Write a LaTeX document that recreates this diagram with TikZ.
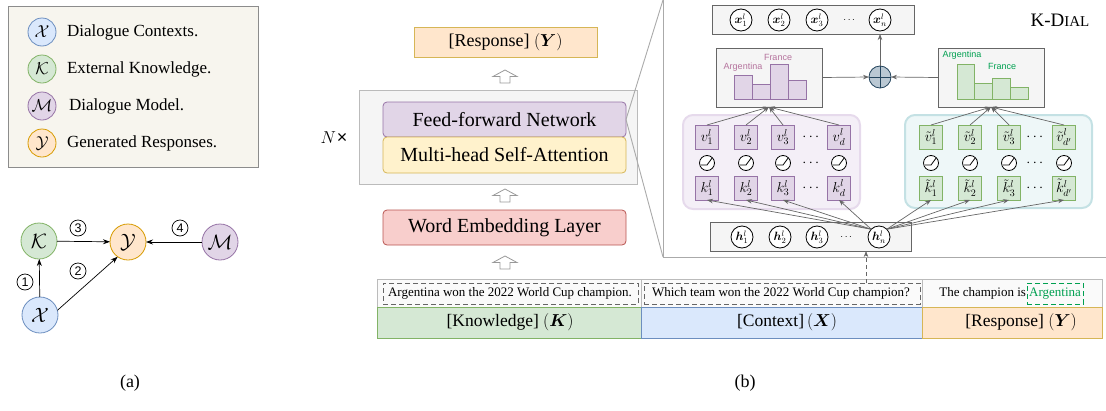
\documentclass[tikz,border=0pt]{standalone}
\usepackage{amsmath,bm}
\usepackage{fontspec}
\setmainfont{Liberation Serif}
\newfontfamily\sansf{Liberation Sans}
\newfontfamily\dejavu{DejaVu Sans}
\usetikzlibrary{arrows.meta}
\newcommand\myfs[1]{\fontsize{#1}{#1}\selectfont}
\definecolor{bluef}{HTML}{DAE8FC}\definecolor{blued}{HTML}{6C8EBF}
\definecolor{greenf}{HTML}{D5E8D4}\definecolor{greend}{HTML}{82B366}
\definecolor{purpf}{HTML}{E1D5E7}\definecolor{purpd}{HTML}{9673A6}
\definecolor{orf}{HTML}{FFE6CC}\definecolor{ord}{HTML}{D79B00}
\definecolor{yelf}{HTML}{FFF2CC}\definecolor{yeld}{HTML}{D6B656}
\definecolor{redf}{HTML}{F8CECC}\definecolor{redd}{HTML}{B85450}
\definecolor{legbg}{HTML}{F7F5EE}\definecolor{legd}{HTML}{8C8C8C}
\definecolor{panp}{HTML}{F4EFF7}\definecolor{panpd}{HTML}{E6DAEC}
\definecolor{pant}{HTML}{EEF7F8}\definecolor{pantd}{HTML}{C4E1E4}
\definecolor{lgray}{HTML}{F5F5F5}\definecolor{dgray}{HTML}{666666}
\definecolor{histp}{HTML}{B5739D}\definecolor{histg}{HTML}{00A050}
\definecolor{plusf}{HTML}{BAC8D3}\definecolor{plusd}{HTML}{23445D}
\definecolor{cellf}{HTML}{FAFAFA}\definecolor{celld}{HTML}{BBBBBB}
\definecolor{panl}{HTML}{AAAAAA}
\tikzset{
  every node/.style={inner sep=0pt, outer sep=0pt},
  bdr/.style={line width=0.8pt},
  legc/.style={circle, bdr, minimum size=28pt, font=\myfs{17}},
  grc/.style={circle, bdr, minimum size=36pt, font=\myfs{21}},
  ltxt/.style={anchor=west, font=\myfs{17}},
  layer/.style={rectangle, rounded corners=4pt, bdr, minimum width=243pt, font=\myfs{20}},
  gbox/.style={rectangle, bdr, draw=dgray, fill=lgray},
  mc/.style={circle, draw=black, fill=white, bdr, minimum size=22pt, font=\myfs{12}},
  vbox/.style={rectangle, bdr, minimum width=23pt, minimum height=24pt, font=\myfs{14.5}},
  pvb/.style={vbox, fill=purpf, draw=purpd},
  gvb/.style={vbox, fill=greenf, draw=greend},
  actc/.style={circle, draw=black, bdr, fill=white, minimum size=15pt},
  garrow/.style={draw=dgray, line width=0.7pt, -{Stealth[length=6pt,width=4.5pt]}},
  barrow/.style={draw=black, line width=0.7pt, -{Stealth[length=7pt,width=5pt]}},
  cell/.style={rectangle, draw=celld, fill=cellf, bdr, minimum height=28pt},
  lab/.style={rectangle, bdr, minimum height=31pt, font=\myfs{17.5}},
  dbox/.style={rectangle, draw=dgray, line width=1pt, dash pattern=on 5pt off 3pt, minimum height=21pt},
  sent/.style={font=\myfs{13}},
  htxt/.style={font=\sansf\myfs{9}},
  hollow/.style={draw=gray!80, fill=white, line width=0.8pt},
  pline/.style={draw=panl, line width=0.9pt},
  cnum/.style={circle, draw=black, line width=0.7pt, minimum size=16pt, font=\sansf\myfs{12.5}}
}
\newcommand\hollowup[2]{\draw[hollow] (#1-12,#2+6.5) -- (#1,#2) -- (#1+12,#2+6.5) -- (#1+5,#2+6.5) -- (#1+5,#2+13) -- (#1-5,#2+13) -- (#1-5,#2+6.5) -- cycle;}
\newcommand\relu[1]{\draw[line width=0.8pt] ([shift={(-6.5,2)}]#1.center) -- ([shift={(0,2)}]#1.center) -- ([shift={(5,-4.8)}]#1.center);}
\begin{document}
\begin{tikzpicture}[x=1pt,y=-1pt]
\useasboundingbox (0,0) rectangle (1106,410);
% ---------- legend ----------
\node[rectangle, draw=legd, fill=legbg, bdr, minimum width=250pt, minimum height=161pt, anchor=north west] (leg) at (8,6) {};
\node[legc, fill=bluef, draw=blued] (lx) at (42,32) {$\mathcal{X}$};
\node[legc, fill=greenf, draw=greend] (lk) at (42,69) {$\mathcal{K}$};
\node[legc, fill=purpf, draw=purpd] (lm) at (42,106) {$\mathcal{M}$};
\node[legc, fill=orf, draw=ord] (ly) at (42,143) {$\mathcal{Y}$};
\node[ltxt] (tx) at (67,32) {Dialogue Contexts.};
\node[ltxt] (tk) at (67,69) {External Knowledge.};
\node[ltxt] (tm) at (69,106) {Dialogue Model.};
\node[ltxt] (ty) at (67,143) {Generated Responses.};
% ---------- graph (a) ----------
\node[grc, fill=greenf, draw=greend] (K) at (39,241) {$\mathcal{K}$};
\node[grc, fill=orf, draw=ord] (Y) at (128,242) {$\mathcal{Y}$};
\node[grc, fill=purpf, draw=purpd] (M) at (220,242) {$\mathcal{M}$};
\node[grc, fill=bluef, draw=blued] (X) at (40,315) {$\mathcal{X}$};
\draw[barrow] (K) -- (Y);
\draw[barrow] (M) -- (Y);
\draw[barrow] (X) -- (K);
\draw[barrow] (X.15) -- (Y.235);
\node[cnum] (c3) at (78,228) {3};
\node[cnum] (c4) at (180,228) {4};
\node[cnum] (c2) at (78,271) {2};
\node[cnum] (c1) at (25,282) {1};
\node[font=\myfs{18}] (capa) at (130,383) {(a)};
% ---------- transformer ----------
\node[rectangle, fill=orf, draw=yeld, bdr, minimum width=183pt, minimum height=30pt, font=\myfs{18}] (resp) at (505.5,42) {[Response] $(\bm{Y})$};
\hollowup{505}{70}
\node[rectangle, fill=lgray, draw=celld, bdr, minimum width=278pt, minimum height=94pt] (nbox) at (498,137) {};
\node[layer, fill=purpf, draw=purpd, minimum height=35pt] (ffn) at (504.5,119.5) {Feed-forward Network};
\node[layer, fill=yelf, draw=yeld, minimum height=36pt] (mhsa) at (504.5,155) {Multi-head Self-Attention};
\node[font=\myfs{18}] (nx) at (334,138) {$N$\kern1pt{\sansf×}};
\hollowup{505}{189}
\node[layer, fill=redf, draw=redd, minimum height=35pt] (we) at (504.5,227.5) {Word Embedding Layer};
\hollowup{505}{256}
% ---------- zoom panel lines ----------
\coordinate (pt) at (663,0);
\coordinate (pb) at (663,257);
\coordinate (pr) at (1106,257);
\draw[pline] (ffn.east) -- (pt);
\draw[pline] (ffn.east) -- (pb);
\draw[pline] (pt) -- (pb) -- (pr);
% ---------- output row ----------
\node[gbox, minimum width=202pt, minimum height=29pt] (xbox) at (813,19.5) {};
\foreach \i/\x in {1/741,2/779,3/817} \node[mc] (x\i) at (\x,20) {$\bm{x}^{l}_{\i}$};
\node[font=\myfs{10}] (xdots) at (850,20) {$\cdots$};
\node[mc] (xn) at (880,20) {$\bm{x}^{l}_{n}$};
\node[font=\myfs{19}] (kdial) at (1060,20) {K-D{\myfs{15}IAL}};
% ---------- histograms ----------
\node[gbox, minimum width=106pt, minimum height=59pt] (lh) at (769,77.5) {};
\node[gbox, minimum width=106pt, minimum height=59pt] (rh) at (991,77.5) {};
\foreach \a/\b/\t in {734/752/75, 752/770/84, 770/788/64, 788/806/80}
  \draw[fill=purpf, draw=purpd, line width=0.8pt] (\a,99) rectangle (\b,\t);
\foreach \a/\b/\t in {957/974/64, 974/992/83, 992/1010/78, 1010/1028/87}
  \draw[fill=greenf, draw=greend, line width=0.8pt] (\a,99) rectangle (\b,\t);
\node[htxt, text=histp] (la) at (743,67) {Argentina};
\node[htxt, text=histp] (lf) at (778,57) {France};
\node[htxt, text=histg] (ra) at (962,55) {Argentina};
\node[htxt, text=histg] (rf) at (1002,66) {France};
\node[circle, fill=plusf, draw=plusd, bdr, minimum size=22pt] (plus) at (880,77) {};
\draw[draw=plusd, line width=0.8pt] (plus.north) -- (plus.south) (plus.west) -- (plus.east);
\draw[garrow] (lh.east) -- (plus.west);
\draw[garrow] (rh.west) -- (plus.east);
\draw[garrow] (plus.north) -- (plus.north |- xbox.south);
% ---------- memory panels ----------
\node[rectangle, rounded corners=10pt, fill=panp, draw=panpd, line width=2pt, minimum width=177pt, minimum height=94pt] (pp) at (771.5,162) {};
\node[rectangle, rounded corners=10pt, fill=pant, draw=pantd, line width=2pt, minimum width=187pt, minimum height=93pt] (tp) at (998.5,161.5) {};
\foreach \i/\x/\s in {1/707/1, 2/746/2, 3/783/3, d/839/d} {
  \node[pvb] (v\i) at (\x,137) {$v^{l}_{\s}$};
  \node[actc] (a\i) at (\x,163) {};
  \relu{a\i}
  \node[pvb] (k\i) at (\x,188) {$k^{l}_{\s}$};
}
\foreach \i/\x/\s in {1/931/1, 2/970/2, 3/1009/3, d/1064/{d'}} {
  \node[gvb] (gv\i) at (\x,137) {$\tilde{v}^{l}_{\s}$};
  \node[actc] (ga\i) at (\x,163) {};
  \relu{ga\i}
  \node[gvb] (gk\i) at (\x,188) {$\tilde{k}^{l}_{\s}$};
}
\foreach \y/\n in {137/vd, 163/ad, 188/kd} {
  \node[font=\myfs{14}] (pdots\n) at (812,\y) {$\cdots$};
  \node[font=\myfs{14}] (gdots\n) at (1036,\y) {$\cdots$};
}
% ---------- hidden row ----------
\node[gbox, minimum width=201pt, minimum height=29pt] (hbox) at (810.5,236.5) {};
\foreach \i/\x in {1/742,2/780,3/817} \node[mc] (h\i) at (\x,237) {$\bm{h}^{l}_{\i}$};
\node[font=\myfs{10}] (hdots) at (847,237) {$\cdots$};
\node[mc] (hn) at (879,237) {$\bm{h}^{l}_{n}$};
\foreach \i in {1,2,3,d} {
  \draw[garrow] (v\i.north) -- (lh.south);
  \draw[garrow] (gv\i.north) -- (rh.south);
  \draw[garrow] (hn.north west) -- (k\i.south);
  \draw[garrow] (hn.north east) -- (gk\i.south);
}
% ---------- input sequence ----------
\node[cell, minimum width=264pt] (ck) at (509,293) {};
\node[cell, minimum width=281pt] (cc) at (781.5,293) {};
\node[cell, minimum width=180pt] (cr) at (1012,293) {};
\node[lab, fill=greenf, draw=greend, minimum width=264pt] (lk2) at (509,322.5) {};
\node[lab, fill=bluef, draw=blued, minimum width=281pt] (lc2) at (781.5,322.5) {};
\node[lab, fill=orf, draw=yeld, minimum width=180pt] (lr2) at (1012,322.5) {};
\node[font=\myfs{17.5}] (tk2) at (510,322.5) {[Knowledge] $(\bm{K})$};
\node[font=\myfs{17.5}] (tc2) at (787,322.5) {[Context]\,$(\bm{X})$};
\node[font=\myfs{17.5}] (tr2) at (1021,322.5) {[Response] $(\bm{Y})$};
\node[dbox, minimum width=255pt] (dk) at (510.5,293.5) {};
\node[dbox, minimum width=276pt] (dc) at (782,293.5) {};
\node[dbox, draw=histg, minimum width=56pt] (dr) at (1055,293.5) {};
\node[sent] (sk) at (510,293.5) {Argentina won the 2022 World Cup champion.};
\node[sent] (sc) at (781,293.5) {Which team won the 2022 World Cup champion?};
\node[sent, anchor=east] (sr) at (1026,293.5) {The champion is};
\node[sent, text=histg] (sa) at (1055,293.5) {Argentina};
\coordinate (ctop) at (866,283);
\draw[garrow, dash pattern=on 4pt off 3pt] (ctop) -- (ctop |- hbox.south);
\node[font=\myfs{18}] (capb) at (745,383) {(b)};
\end{tikzpicture}
\end{document}
